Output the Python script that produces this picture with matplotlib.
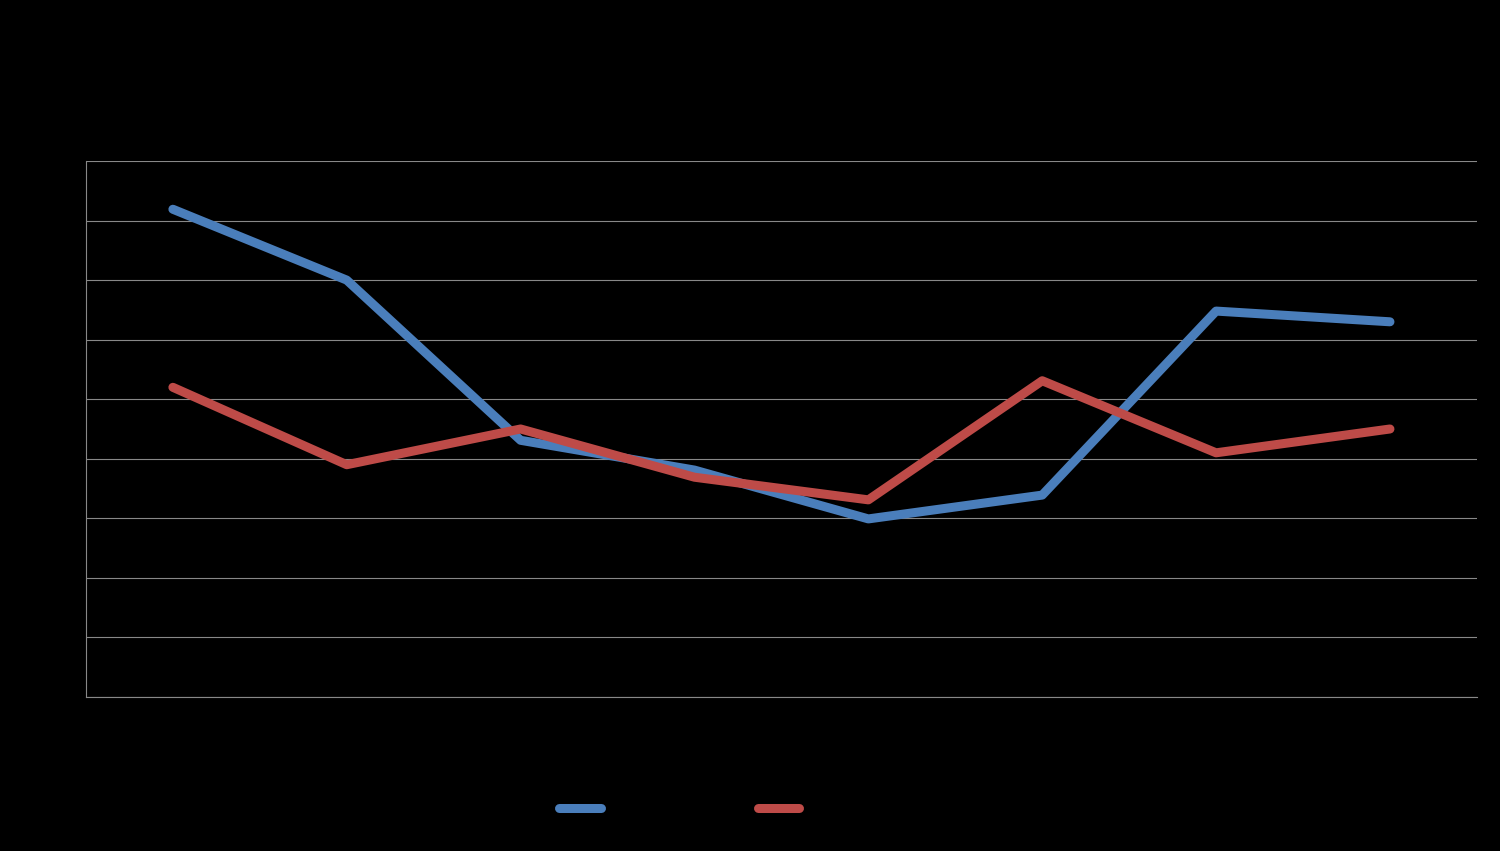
import numpy as np
import matplotlib.pyplot as plt

categories = ['1', '2', '3', '4', '5', '6', '7', '8']
series1 = [8.19, 7.0, 4.31, 3.81, 2.99, 3.39, 6.48, 6.30]
series2 = [5.20, 3.90, 4.50, 3.69, 3.31, 5.31, 4.10, 4.50]
names = ['Series 1', 'Series 2']

fig = plt.figure(figsize=(15, 8.51), dpi=100, facecolor='black')
ax = fig.add_axes([0.0573, 0.1810, 0.9273, 0.6298])
ax.set_facecolor('black')

x = np.arange(len(categories))
l1, = ax.plot(x, series1, color='#4A7EBB', lw=6.5, solid_capstyle='round', solid_joinstyle='round', label=names[0], zorder=3)
l2, = ax.plot(x, series2, color='#BE4B48', lw=6.5, solid_capstyle='round', solid_joinstyle='round', label=names[1], zorder=3)

ax.set_xlim(-0.5, len(categories) - 0.5)
ax.set_ylim(0, 9)
ax.set_yticks(np.arange(0, 10, 1))
ax.yaxis.grid(True, color='#888888', lw=0.8)
ax.set_axisbelow(True)
ax.tick_params(left=False, bottom=False, labelleft=False, labelbottom=False)
for s in ['top', 'right']:
    ax.spines[s].set_visible(False)
for s in ['left', 'bottom']:
    ax.spines[s].set_color('#888888')
    ax.spines[s].set_linewidth(0.8)

leg = fig.legend(handles=[l1, l2], loc='center', bbox_to_anchor=(0.4820, 1 - 809 / 851),
                 ncol=2, frameon=False, fontsize=13, handlelength=2.3,
                 columnspacing=3.87, labelcolor='black')

fig.savefig('out.png', dpi=100, facecolor='black')
